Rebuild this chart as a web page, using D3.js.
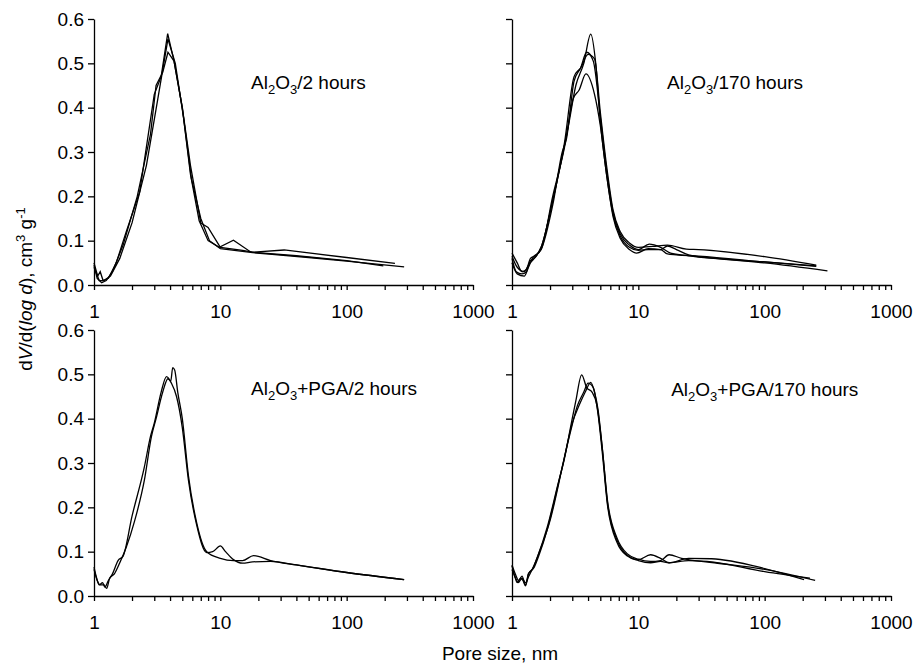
<!DOCTYPE html>
<html>
<head>
<meta charset="utf-8">
<script src="https://cdn.jsdelivr.net/npm/d3@7"></script>
<style>
  body { margin: 0; background: #fff; }
  svg { font-family: Arial, "Liberation Sans", sans-serif; }
  .axis path, .axis line { stroke: #000; stroke-width: 1.3; }
  .axis text { font-size: 19px; fill: #000; }
  .curve { fill: none; stroke: #000; stroke-width: 1.3; }
</style>
</head>
<body>
<script>
// pore size (nm) / dV/d(log d) pairs
const al2h_a = [[1,0.05],[1.07,0.02],[1.12,0.03],[1.18,0.01],[1.3,0.015],[1.5,0.05],[1.8,0.12],[2.3,0.21],[3.0,0.43],[3.4,0.47],[3.83,0.567],[4.3,0.505],[5,0.40],[5.8,0.25],[6.8,0.145],[8,0.10],[9.8,0.085],[12.7,0.101],[17.5,0.074],[40,0.066],[100,0.055],[195,0.043]];
const al2h_b = [[1,0.045],[1.06,0.015],[1.15,0.005],[1.25,0.01],[1.4,0.03],[1.7,0.09],[2.2,0.2],[2.8,0.34],[3.1,0.45],[3.5,0.48],[3.85,0.525],[4.3,0.505],[5,0.40],[5.8,0.27],[7,0.14],[8,0.13],[10,0.085],[15,0.078],[18,0.074],[32,0.079],[100,0.062],[241,0.049]];
const al2h_c = [[1,0.04],[1.1,0.01],[1.2,0.01],[1.35,0.02],[1.6,0.06],[2,0.14],[2.6,0.27],[3.2,0.42],[3.85,0.555],[4.4,0.50],[5.1,0.38],[5.9,0.24],[7,0.15],[8.2,0.10],[10,0.082],[18,0.073],[50,0.062],[100,0.054],[285,0.041]];

const al170_a = [[1,0.06],[1.08,0.03],[1.2,0.025],[1.3,0.03],[1.4,0.055],[1.5,0.06],[1.7,0.085],[2.1,0.19],[2.5,0.29],[2.8,0.36],[3.2,0.45],[3.7,0.5],[4.2,0.566],[4.6,0.5],[5,0.37],[5.6,0.25],[6.3,0.16],[7.2,0.11],[8.5,0.085],[10,0.078],[12,0.08],[15,0.08],[17,0.088],[20,0.08],[25,0.068],[50,0.058],[100,0.05],[314,0.032]];
const al170_b = [[1,0.072],[1.1,0.05],[1.2,0.03],[1.3,0.035],[1.4,0.06],[1.5,0.065],[1.7,0.08],[2.1,0.18],[2.5,0.30],[2.7,0.33],[3.1,0.46],[3.5,0.49],[3.9,0.525],[4.4,0.505],[5,0.38],[5.6,0.26],[6.3,0.165],[7.2,0.115],[8.5,0.09],[10,0.08],[12.2,0.092],[15,0.085],[18,0.072],[25,0.066],[100,0.052],[256,0.043]];
const al170_c = [[1,0.05],[1.1,0.025],[1.25,0.02],[1.35,0.04],[1.45,0.06],[1.7,0.08],[2.1,0.2],[2.6,0.31],[3.05,0.42],[3.4,0.44],[3.85,0.476],[4.5,0.43],[5,0.36],[5.6,0.25],[6.3,0.155],[7.2,0.105],[8.5,0.08],[9.7,0.072],[12,0.082],[15,0.08],[17,0.07],[20,0.068],[30,0.065],[100,0.052],[256,0.042]];
const al170_d = [[1,0.065],[1.1,0.04],[1.25,0.03],[1.35,0.045],[1.5,0.06],[1.7,0.085],[2.1,0.19],[2.6,0.32],[3.1,0.47],[3.5,0.49],[4.0,0.52],[4.5,0.51],[5,0.39],[5.6,0.27],[6.3,0.17],[7.2,0.12],[8.5,0.095],[10,0.085],[13,0.087],[17,0.09],[24,0.081],[30,0.08],[100,0.064],[256,0.045]];

const pga2h_a = [[1,0.06],[1.06,0.035],[1.12,0.025],[1.2,0.025],[1.26,0.017],[1.33,0.04],[1.45,0.05],[1.6,0.075],[1.8,0.11],[2.1,0.17],[2.5,0.26],[2.85,0.36],[3.1,0.40],[3.5,0.46],[3.85,0.49],[4.05,0.485],[4.2,0.515],[4.35,0.51],[4.6,0.46],[5,0.40],[5.6,0.27],[6.5,0.165],[7.8,0.10],[10,0.085],[12.7,0.08],[15,0.08],[18.3,0.091],[25,0.08],[40,0.07],[100,0.053],[285,0.037]];
const pga2h_b = [[1,0.065],[1.05,0.04],[1.1,0.025],[1.17,0.03],[1.22,0.02],[1.3,0.035],[1.4,0.05],[1.55,0.08],[1.7,0.09],[2.0,0.18],[2.5,0.29],[2.8,0.36],[3.0,0.39],[3.4,0.46],[3.75,0.495],[4.1,0.48],[4.5,0.45],[5,0.38],[5.6,0.26],[6.5,0.16],[7.8,0.098],[8.7,0.1],[10,0.113],[11,0.1],[12.7,0.082],[15,0.074],[18,0.077],[25,0.078],[40,0.07],[100,0.053],[285,0.037]];

const pga170_a = [[1,0.068],[1.05,0.045],[1.1,0.03],[1.17,0.04],[1.22,0.035],[1.28,0.023],[1.35,0.05],[1.45,0.06],[1.6,0.09],[1.9,0.155],[2.3,0.25],[2.6,0.31],[2.95,0.39],[3.2,0.44],[3.56,0.499],[3.9,0.47],[4.3,0.46],[4.7,0.43],[5.2,0.33],[5.7,0.21],[6.8,0.125],[8.2,0.092],[10,0.082],[12.5,0.093],[15,0.085],[17.5,0.075],[25,0.08],[35,0.078],[100,0.055],[228,0.04]];
const pga170_b = [[1,0.06],[1.07,0.04],[1.12,0.03],[1.2,0.04],[1.28,0.03],[1.36,0.045],[1.5,0.07],[1.7,0.11],[2.0,0.17],[2.5,0.29],[3.0,0.39],[3.4,0.43],[3.8,0.46],[4.2,0.482],[4.5,0.46],[4.8,0.42],[5.2,0.33],[5.7,0.215],[6.8,0.13],[8.2,0.095],[10,0.083],[12.5,0.078],[15,0.08],[17.5,0.093],[22,0.085],[40,0.075],[100,0.06],[251,0.035]];
const pga170_c = [[1,0.07],[1.06,0.05],[1.13,0.035],[1.2,0.045],[1.28,0.025],[1.35,0.05],[1.5,0.065],[1.65,0.095],[1.9,0.15],[2.4,0.27],[2.9,0.37],[3.3,0.43],[3.7,0.46],[4.0,0.48],[4.4,0.47],[4.8,0.41],[5.2,0.32],[5.7,0.205],[6.8,0.12],[8.2,0.09],[10,0.08],[12.5,0.075],[15,0.078],[17.5,0.075],[25,0.085],[38,0.084],[100,0.062],[205,0.037]];

const yTicks = [0, 0.1, 0.2, 0.3, 0.4, 0.5, 0.6];
const xMajor = [1, 10, 100, 1000];

const width = 914;
const height = 665;
const pw = 379, ph = 266;

// title pieces: [text, isSubscript]
const panels = [
  { left: 94, top: 19, series: [al2h_a, al2h_b, al2h_c], smooth: false, labels: true,
    title: [["Al", 0], ["2", 1], ["O", 0], ["3", 1], ["/2 hours", 0]], tx: 17.5, ty: 0.443 },
  { left: 512, top: 19, series: [al170_a, al170_b, al170_c, al170_d], smooth: true, labels: false,
    title: [["Al", 0], ["2", 1], ["O", 0], ["3", 1], ["/170 hours", 0]], tx: 16.9, ty: 0.443 },
  { left: 94, top: 330, series: [pga2h_a, pga2h_b], smooth: true, labels: true,
    title: [["Al", 0], ["2", 1], ["O", 0], ["3", 1], ["+PGA/2 hours", 0]], tx: 17.5, ty: 0.453 },
  { left: 512, top: 330, series: [pga170_a, pga170_b, pga170_c], smooth: true, labels: false,
    title: [["Al", 0], ["2", 1], ["O", 0], ["3", 1], ["+PGA/170 hours", 0]], tx: 18.2, ty: 0.451 }
];

const allTicks = [];
[1, 10, 100].forEach(p => { for (let k = 1; k <= 9; k++) allTicks.push(k * p); });
allTicks.push(1000);

const svg = d3.select("body").append("svg")
  .attr("width", width)
  .attr("height", height);

panels.forEach(p => {
  const x = d3.scaleLog().domain([1, 1000]).range([0, pw]);
  const y = d3.scaleLinear().domain([0, 0.6]).range([ph, 0]);
  const g = svg.append("g").attr("transform", `translate(${p.left},${p.top})`);

  const line = d3.line()
    .x(d => x(d[0]))
    .y(d => y(d[1]))
    .curve(p.smooth ? d3.curveMonotoneX : d3.curveLinear);

  g.selectAll(".curve")
    .data(p.series)
    .enter()
    .append("path")
    .attr("class", "curve")
    .attr("d", line);

  const xAxis = d3.axisBottom(x)
    .tickValues(allTicks)
    .tickFormat(d => xMajor.includes(d) ? d : "")
    .tickSizeInner(5)
    .tickSizeOuter(0)
    .tickPadding(15);
  g.append("g").attr("class", "axis")
    .attr("transform", `translate(0,${ph})`)
    .call(xAxis);

  const yAxis = d3.axisLeft(y)
    .tickValues(yTicks)
    .tickFormat(p.labels ? d3.format(".1f") : "")
    .tickSizeInner(6)
    .tickSizeOuter(0)
    .tickPadding(4);
  g.append("g").attr("class", "axis").call(yAxis);

  const t = g.append("text")
    .attr("x", x(p.tx))
    .attr("y", y(p.ty))
    .attr("font-size", 19);
  let down = false;
  p.title.forEach(([s, sub]) => {
    const span = t.append("tspan").text(s);
    if (sub) {
      span.attr("font-size", 13).attr("dy", down ? 0 : 5);
      down = true;
    } else {
      span.attr("dy", down ? -5 : 0);
      down = false;
    }
  });
});

// y axis title
const yl = svg.append("text")
  .attr("transform", "translate(32,289) rotate(-90)")
  .attr("text-anchor", "middle")
  .attr("font-size", 19);
yl.append("tspan").text("d");
yl.append("tspan").attr("font-style", "italic").text("V");
yl.append("tspan").text("/d(");
yl.append("tspan").attr("font-style", "italic").text("log d");
yl.append("tspan").text("), cm");
yl.append("tspan").attr("font-size", 13).attr("dy", -7).text("3");
yl.append("tspan").attr("dy", 7).text(" g");
yl.append("tspan").attr("font-size", 13).attr("dy", -7).text("-1");

// x axis title
svg.append("text")
  .attr("x", 500)
  .attr("y", 660)
  .attr("text-anchor", "middle")
  .attr("font-size", 19)
  .text("Pore size, nm");
</script>
</body>
</html>
